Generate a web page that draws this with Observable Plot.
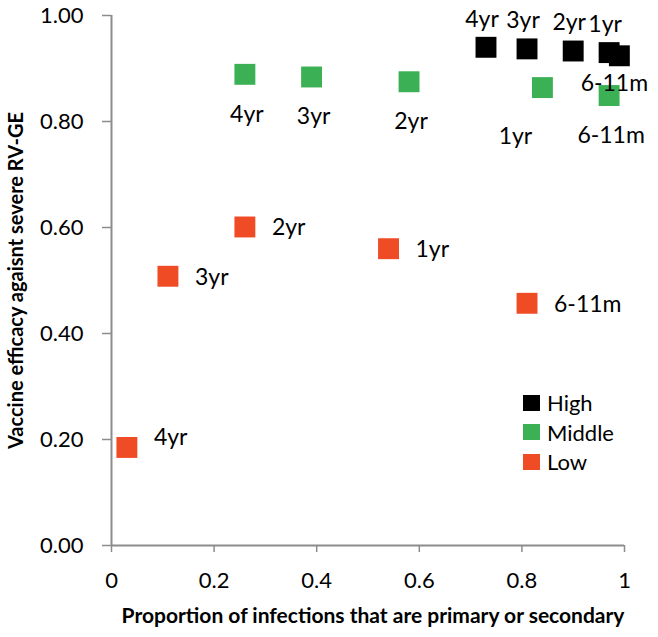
<!DOCTYPE html>
<html>
<head>
<meta charset="utf-8">
<script src="https://cdn.jsdelivr.net/npm/d3@7"></script>
<script src="https://cdn.jsdelivr.net/npm/@observablehq/plot@0.6"></script>
<style>
  html, body { margin: 0; padding: 0; background: #fff; }
  #wrap { position: relative; width: 658px; height: 637px; font-family: Lato, "Open Sans", sans-serif; }
  #legend { position: absolute; left: 523px; top: 388px; font-size: 22px; line-height: 29.5px; color: #000; }
  #legend .row { display: flex; align-items: center; }
  #legend .sw { width: 17px; height: 16px; margin-right: 7px; }
</style>
</head>
<body>
<div id="wrap"></div>
<script>
// ---- data ----
const ages = ["6-11m", "1yr", "2yr", "3yr", "4yr"];
const groups = ["High", "Middle", "Low"];
const colors = ["#000000", "#3cb054", "#ef4b24"];
const highX = [0.99, 0.97, 0.90, 0.81, 0.73];
const highY = [0.924, 0.930, 0.933, 0.937, 0.940];
const midX = [0.97, 0.84, 0.58, 0.39, 0.26];
const midY = [0.849, 0.864, 0.875, 0.884, 0.889];
const lowX = [0.81, 0.54, 0.26, 0.11, 0.03];
const lowY = [0.457, 0.560, 0.601, 0.508, 0.185];
const xTicks = [0, 0.2, 0.4, 0.6, 0.8, 1];
const yTicks = [0, 0.2, 0.4, 0.6, 0.8, 1];
const xTitle = "Proportion of infections that are primary or secondary";
const yTitle = "Vaccine efficacy agaisnt severe RV-GE";

const mk = (g, xs, ys) => ages.map((a, i) => ({group: g, age: a, x: xs[i], y: ys[i]}));
const high = mk("High", highX, highY);
const mid = mk("Middle", midX, midY);
const low = mk("Low", lowX, lowY);
const all = [...low, ...mid, ...high];

const axisColor = "#8c8c8c";
const labelFont = {fontSize: 23, fill: "#000"};

const chart = Plot.plot({
  width: 658,
  height: 637,
  marginLeft: 111,
  marginRight: 34,
  marginTop: 15,
  marginBottom: 92,
  style: {fontFamily: "Lato, 'Open Sans', sans-serif", background: "#fff", color: "#000"},
  x: {domain: [0, 1]},
  y: {domain: [0, 1]},
  color: {domain: groups, range: colors},
  marks: [
    Plot.axisX({ticks: xTicks, tickFormat: d => d3.format("")(d), tickSize: 7, tickPadding: 20, stroke: axisColor, strokeWidth: 1.5, fontSize: 22, fill: "#000", label: null}),
    Plot.axisY({ticks: yTicks, tickFormat: d3.format(".2f"), tickSize: 9, tickPadding: 19, stroke: axisColor, strokeWidth: 1.5, fontSize: 22, fill: "#000", label: null}),
    Plot.ruleX([0], {stroke: axisColor, strokeWidth: 2}),
    Plot.ruleY([0], {stroke: axisColor, strokeWidth: 2}),
    Plot.dot(all, {x: "x", y: "y", fill: "group", symbol: "square", r: 11.8, stroke: null}),
    // High: labels above, 6-11m below
    Plot.text(high, {filter: d => d.age !== "6-11m", x: "x", y: "y", text: "age", dy: -28, dx: -4, ...labelFont}),
    Plot.text(high, {filter: d => d.age === "6-11m", x: "x", y: "y", text: "age", dy: 28, dx: -5, ...labelFont}),
    // Middle: labels below
    Plot.text(mid, {filter: d => d.age !== "1yr", x: "x", y: "y", text: "age", dy: 40, dx: 2, ...labelFont}),
    Plot.text(mid, {filter: d => d.age === "1yr", x: "x", y: "y", text: "age", dy: 49, dx: -27, ...labelFont}),
    // Low: labels to the right
    Plot.text(low, {filter: d => d.age !== "4yr", x: "x", y: "y", text: "age", textAnchor: "start", dx: 27, dy: 1, ...labelFont}),
    Plot.text(low, {filter: d => d.age === "4yr", x: "x", y: "y", text: "age", textAnchor: "start", dx: 27, dy: -10, ...labelFont}),
    // axis titles
    Plot.text([xTitle], {frameAnchor: "bottom", text: d => d, textAnchor: "middle", dy: 77, dx: 5, fontSize: 21, fontWeight: "bold", fill: "#000"}),
    Plot.text([yTitle], {frameAnchor: "left", text: d => d, textAnchor: "middle", rotate: -90, dx: -95, dy: 0, fontSize: 20, fontWeight: "bold", fill: "#000"})
  ]
});

const wrap = document.getElementById("wrap");
wrap.appendChild(chart);

const legend = document.createElement("div");
legend.id = "legend";
groups.forEach((g, i) => {
  const row = document.createElement("div");
  row.className = "row";
  const sw = document.createElement("div");
  sw.className = "sw";
  sw.style.background = colors[i];
  const t = document.createElement("span");
  t.textContent = g;
  row.appendChild(sw);
  row.appendChild(t);
  legend.appendChild(row);
});
wrap.appendChild(legend);
</script>
</body>
</html>
